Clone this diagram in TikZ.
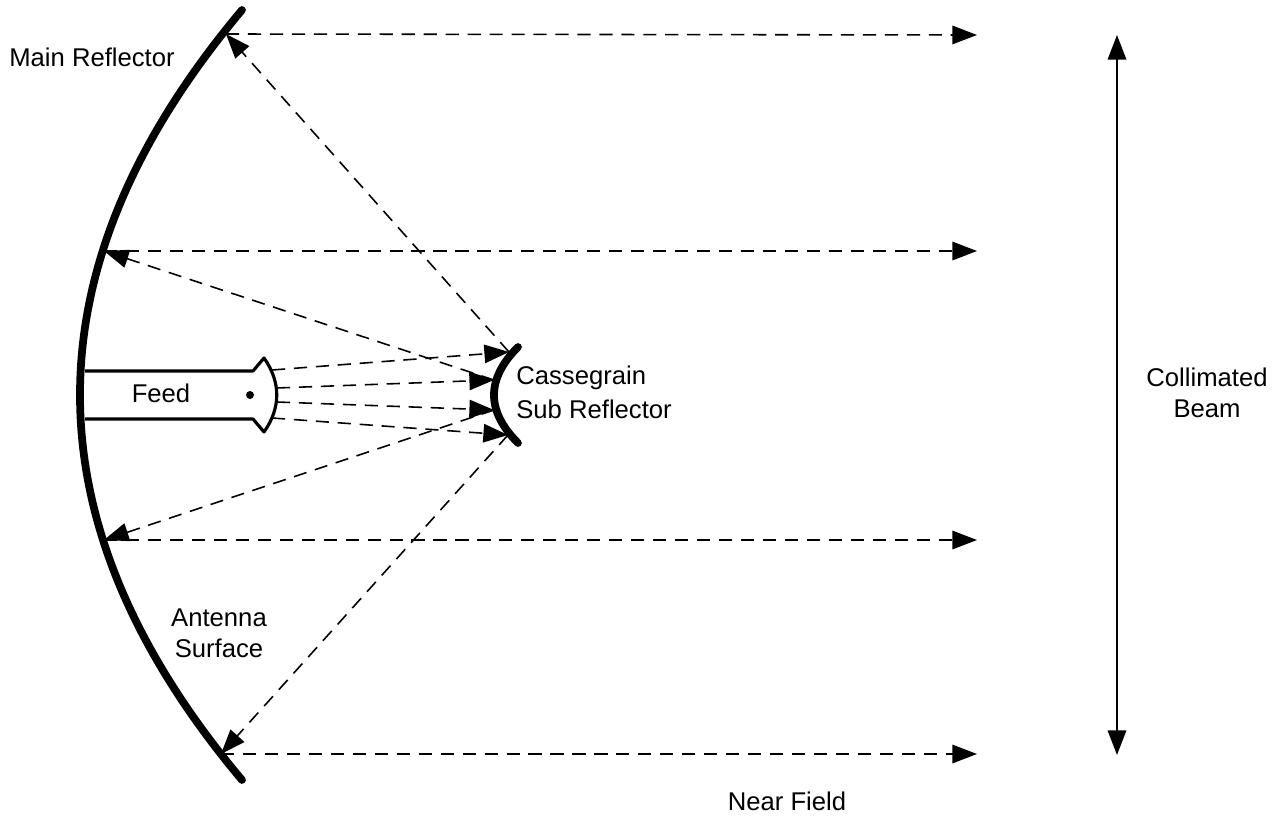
\documentclass[tikz,border=0pt]{standalone}
\usepackage{fontspec}
\setmainfont{Liberation Sans}
\usetikzlibrary{arrows.meta}
\tikzset{
  ray/.style={dashed, dash pattern=on 7.5pt off 5pt, line width=.9pt, -{Triangle[length=14pt,width=10.5pt]}},
  span/.style={line width=1.1pt, {Triangle[length=14pt,width=10.5pt]}-{Triangle[length=14pt,width=10.5pt]}},
  dish/.style={line width=4.4pt, line cap=round},
  horn/.style={line width=1.8pt, line join=round},
  nodes={font=\fontsize{14.6}{17.6}\selectfont, inner sep=0pt}
}
\begin{document}
\begin{tikzpicture}[x=.02cm,y=-.02cm]
\useasboundingbox (0,0) rectangle (1286,818);
% points on the reflectors
\coordinate (m1) at (226,34);
\coordinate (m2) at (104,251);
\coordinate (m3) at (104,540);
\coordinate (m4) at (221,754);
\coordinate (s1) at (509,352);
\coordinate (s2) at (494,380);
\coordinate (s3) at (494,410);
\coordinate (s4) at (508,435);
\coordinate (h1) at (272,370);
\coordinate (h2) at (277,388);
\coordinate (h3) at (277,402);
\coordinate (h4) at (272,418);
\coordinate (f1) at (977,35);
\coordinate (f2) at (977,251);
\coordinate (f3) at (977,540);
\coordinate (f4) at (977,754);
\coordinate (b1) at (1117,35);
\coordinate (b2) at (1117,755);
% reflectors
\draw[dish] (242,10) .. controls (26,267) and (26,523) .. (242,780);
\draw[dish] (518,347) .. controls (486,379) and (486,411) .. (518,443);
% feed horn
\draw[horn] (85,371) -- (253,371) -- (264,358) .. controls (281,382) and (281,408) .. (264,432) -- (253,419) -- (85,419);
\fill (250,395) circle (4);
% rays
\path[ray] (m1) edge (f1)
           (m2) edge (f2)
           (m3) edge (f3)
           (m4) edge (f4)
           (s1) edge (m1)
           (s2) edge (m2)
           (s3) edge (m3)
           (s4) edge (m4)
           (h1) edge (s1)
           (h2) edge (s2)
           (h3) edge (s3)
           (h4) edge (s4);
\draw[span] (b1) -- (b2);
% labels
\node (main) at (92,57) {Main Reflector};
\node (feed) at (161,393) {Feed};
\node[anchor=west] (cass) at (516,378) {Cassegrain};
\node[anchor=west] (sub) at (516,409) {Sub Reflector};
\node[align=center] (surf) at (219,633) {Antenna\\Surface};
\node[align=center] (beam) at (1207,393) {Collimated\\Beam};
\node (near) at (787,801) {Near Field};
\end{tikzpicture}
\end{document}
